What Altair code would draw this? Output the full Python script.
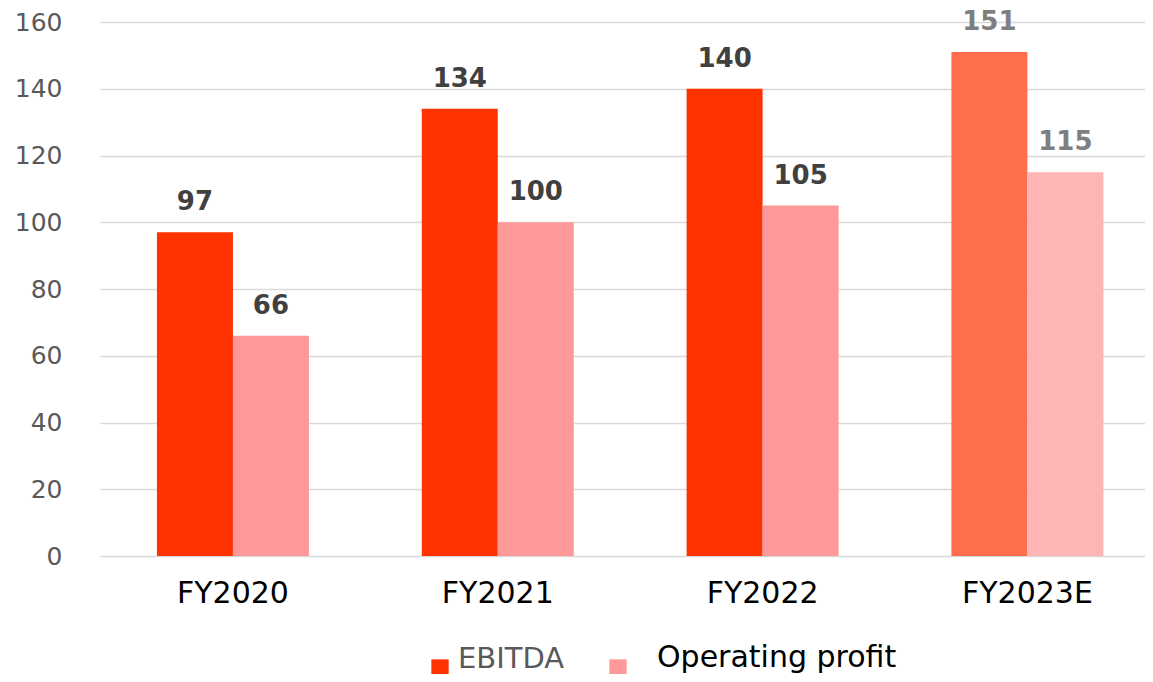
import altair as alt
import pandas as pd

years = ["FY2020", "FY2021", "FY2022", "FY2023E"]
ebitda = [97, 134, 140, 151]
op_profit = [66, 100, 105, 115]
series_names = ["EBITDA", "Operating profit"]

rows = []
for i, y in enumerate(years):
    est = y.endswith("E")
    rows.append({"year": y, "series": "EBITDA", "value": ebitda[i],
                 "key": "EBITDA_E" if est else "EBITDA"})
    rows.append({"year": y, "series": "Operating profit", "value": op_profit[i],
                 "key": "OP_E" if est else "OP"})
df = pd.DataFrame(rows)

FONT = "DejaVu Sans"

x_enc = alt.X("year:N", sort=years, title=None,
              scale=alt.Scale(paddingInner=0.426, paddingOuter=0.186, align=0.578),
              axis=alt.Axis(labelAngle=0, labelFontSize=30, labelColor="#000000",
                            labelFont=FONT, labelPadding=22, ticks=False,
                            domain=False, grid=False))
xo_enc = alt.XOffset("series:N", sort=series_names,
                     scale=alt.Scale(paddingInner=0, paddingOuter=0))
y_enc = alt.Y("value:Q", title=None,
              scale=alt.Scale(domain=[0, 160], nice=False),
              axis=alt.Axis(values=list(range(0, 161, 20)), labelFontSize=25,
                            labelColor="#595959", labelFont=FONT, labelPadding=38,
                            ticks=False, domain=False, gridColor="#d9d9d9",
                            gridWidth=1.4))

bars = alt.Chart(df).mark_bar().encode(
    x=x_enc, xOffset=xo_enc, y=y_enc,
    color=alt.Color("key:N",
                    scale=alt.Scale(domain=["EBITDA", "OP", "EBITDA_E", "OP_E"],
                                    range=["#FF3300", "#FF9999", "#FF6E4A", "#FFB5B5"]),
                    legend=None),
)

labels = alt.Chart(df).mark_text(
    font=FONT, fontSize=26, fontWeight="bold", baseline="alphabetic", dy=-22
).encode(
    x=x_enc, xOffset=xo_enc, y=y_enc,
    text=alt.Text("value:Q"),
    color=alt.condition(alt.datum.year == "FY2023E", alt.value("#7f7f7f"), alt.value("#404040")),
)

leg1 = pd.DataFrame({"label": ["EBITDA"]})
leg2 = pd.DataFrame({"label": ["Operating profit"]})

sq1 = alt.Chart(leg1).mark_square(size=300, color="#FF3300", opacity=1).encode(
    x=alt.value(340), y=alt.value(646))
tx1 = alt.Chart(leg1).mark_text(font=FONT, fontSize=29, color="#595959", align="left",
                                baseline="alphabetic").encode(
    x=alt.value(358), y=alt.value(646), text="label:N")
sq2 = alt.Chart(leg2).mark_square(size=300, color="#FF9999", opacity=1).encode(
    x=alt.value(518), y=alt.value(646))
tx2 = alt.Chart(leg2).mark_text(font=FONT, fontSize=30, color="#000000", align="left",
                                baseline="alphabetic").encode(
    x=alt.value(557), y=alt.value(645), text="label:N")

chart = alt.layer(bars, labels, sq1, tx1, sq2, tx2).properties(
    width=1045, height=534,
    autosize=alt.AutoSizeParams(type="none"),
    padding={"left": 92, "top": 14, "right": 0, "bottom": 118},
    background="white",
).configure_view(stroke=None)

chart.save("out.html", embed_options={"renderer": "svg", "actions": False})
